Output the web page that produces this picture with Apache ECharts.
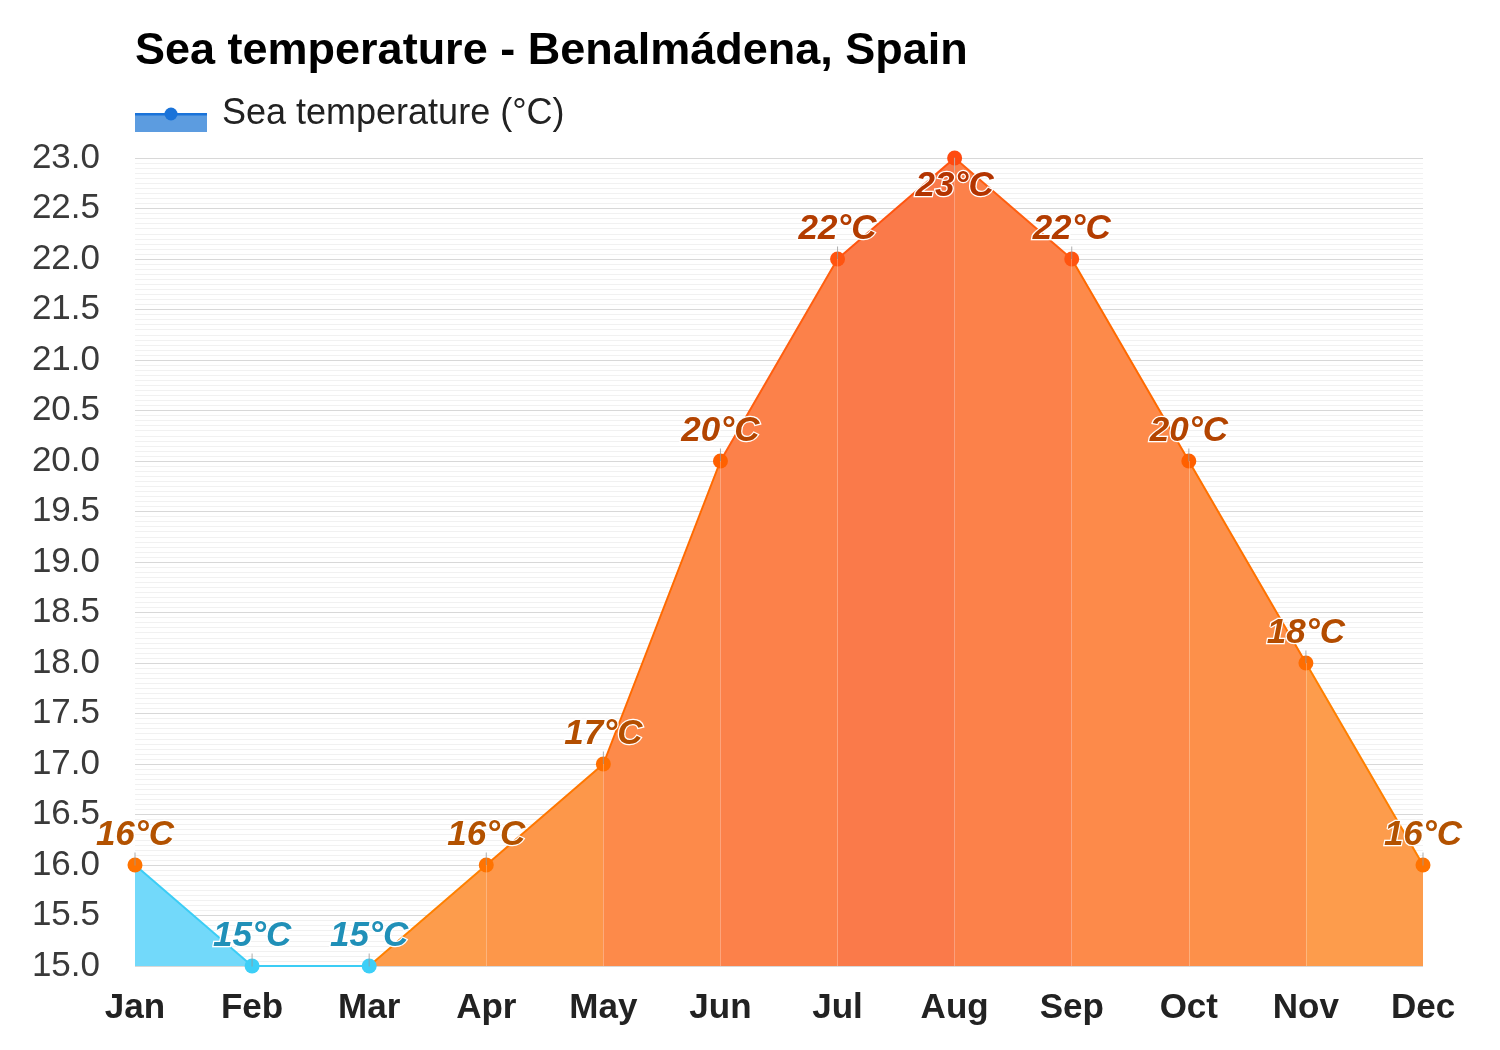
<!DOCTYPE html>
<html>
<head>
<meta charset="utf-8">
<script src="https://cdn.jsdelivr.net/npm/echarts@6/dist/echarts.min.js"></script>
<style>html,body{margin:0;padding:0;background:#fff}#c{width:1500px;height:1050px}</style>
</head>
<body>
<div id="c"></div>
<script>
const months = ['Jan','Feb','Mar','Apr','May','Jun','Jul','Aug','Sep','Oct','Nov','Dec'];
const seaTemp = [16, 15, 15, 16, 17, 20, 22, 23, 22, 20, 18, 16];
const yTicks = {min: 15, max: 23, step: 0.5};

// colour scales keyed by temperature
const pointColor = {15:'#3dcff7',16:'#ff7300',17:'#ff6f00',18:'#ff6d00',20:'#ff6000',22:'#ff5410',23:'#ff4a10'};
const lineColor  = {15:'#3ccdf5',16:'#ff8000',17:'#ff7700',18:'#ff7200',20:'#ff6a00',22:'#ff5f10',23:'#ff5510'};
const areaColor  = {15:'#72d9fa',16:'#fd9c4c',17:'#fd974a',18:'#fd904a',20:'#fd8a4a',22:'#fc814a',23:'#fa7a4a'};
const labelColor = {15:'#2090b8',16:'#b35200',17:'#b34e00',18:'#b34c00',20:'#b34400',22:'#b33c00',23:'#b33400'};

function pieces(map) {
  const p = [];
  for (let i = 1; i < seaTemp.length; i++) {
    const piece = {color: map[seaTemp[i]]};
    if (i > 1) piece.gt = i - 1;
    if (i < seaTemp.length - 1) piece.lte = i;
    p.push(piece);
  }
  return p;
}

const peakIdx = seaTemp.indexOf(Math.max(...seaTemp));

const legendIcon = 'image://data:image/svg+xml;utf8,' + encodeURIComponent(
  '<svg xmlns="http://www.w3.org/2000/svg" width="82" height="36" viewBox="0 0 82 36">' +
  '<rect x="0" y="18" width="72" height="18" fill="#5c9ce0"/>' +
  '<rect x="0" y="17" width="72" height="2.5" fill="#1a73d9"/>' +
  '<circle cx="36" cy="18" r="6.5" fill="#1a73d9"/></svg>');

const chart = echarts.init(document.getElementById('c'), null, {renderer: 'canvas'});
const FONT = 'Liberation Sans, Arial, sans-serif';

chart.setOption({
  backgroundColor: '#ffffff',
  animation: false,
  title: {
    text: 'Sea temperature - Benalmádena, Spain',
    left: 130, top: 24,
    textStyle: {fontFamily: FONT, fontSize: 45, fontWeight: 'bold', color: '#000'}
  },
  legend: {
    left: 135, top: 96, padding: 0,
    itemWidth: 82, itemHeight: 36,
    data: [{name: 'Sea temperature (°C)', icon: legendIcon}],
    textStyle: {fontFamily: FONT, fontSize: 36, color: '#222'},
    selectedMode: false
  },
  grid: {left: 135, right: 77, top: 158, bottom: 84, containLabel: false},
  visualMap: [
    {type: 'piecewise', show: false, dimension: 0, seriesIndex: 0, pieces: pieces(areaColor)},
    {type: 'piecewise', show: false, dimension: 0, seriesIndex: 1, pieces: pieces(lineColor)}
  ],
  xAxis: {
    type: 'category', data: months, boundaryGap: false,
    axisLine: {show: false}, axisTick: {show: false},
    axisLabel: {fontFamily: FONT, fontSize: 35, fontWeight: 'bold', color: '#222', margin: 25},
    splitLine: {show: false}
  },
  yAxis: {
    type: 'value', min: yTicks.min, max: yTicks.max, interval: yTicks.step,
    axisLine: {show: false}, axisTick: {show: false},
    axisLabel: {fontFamily: FONT, fontSize: 35, color: '#3a3a3a', margin: 35,
      formatter: v => v.toFixed(1)},
    splitLine: {lineStyle: {color: '#d8d8d8', width: 1}},
    minorTick: {show: false, splitNumber: 10},
    minorSplitLine: {show: true, lineStyle: {color: '#f1f1f1', width: 1}}
  },
  series: [
    {
      name: 'Sea temperature (°C)',
      type: 'line', data: seaTemp, symbol: 'none', silent: true,
      lineStyle: {width: 0},
      areaStyle: {opacity: 1},
      z: 2,
      markLine: {
        silent: true, symbol: 'none', animation: false,
        label: {show: false},
        lineStyle: {color: 'rgba(255,255,255,0.28)', width: 1, type: 'solid'},
        data: seaTemp.slice(1, -1).map((v, k) => [
          {coord: [months[k + 1], v]}, {coord: [months[k + 1], yTicks.min]}
        ])
      }
    },
    {
      name: 'Sea temperature (°C)',
      type: 'line',
      z: 3,
      symbol: 'circle', symbolSize: 15,
      lineStyle: {width: 2},
      data: seaTemp.map((v, i) => ({
        value: v,
        itemStyle: {color: pointColor[v]},
        label: {
          show: true,
          position: i === peakIdx ? 'bottom' : 'top',
          distance: i === peakIdx ? 3 : 5,
          formatter: v + '°C',
          color: labelColor[v],
          fontFamily: FONT, fontSize: 35, fontWeight: 'bold', fontStyle: 'italic',
          textBorderColor: '#fff', textBorderWidth: 2.5
        }
      })),
      labelLayout: {hideOverlap: false}
    },
    {
      name: 'ticks',
      type: 'scatter', silent: true, z: 4,
      symbol: 'rect',
      data: seaTemp.map((v, i) => ({
        value: v,
        symbolSize: [1, 13],
        symbolOffset: [0, i === peakIdx ? 6 : -6]
      })),
      itemStyle: {color: '#9a9a9a'}
    }
  ]
});
</script>
</body>
</html>
